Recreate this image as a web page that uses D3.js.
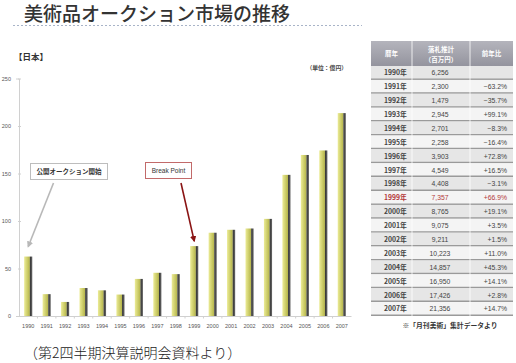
<!DOCTYPE html>
<html>
<head>
<meta charset="utf-8">
<script src="https://cdn.jsdelivr.net/npm/d3@7"></script>
<style>
  html, body { margin: 0; padding: 0; background: #fff; }
  svg { display: block; font-family: "Liberation Sans", "Noto Sans CJK JP", sans-serif; }
  .jp { font-family: "Noto Sans CJK JP", sans-serif; }
</style>
</head>
<body>
<div id="chart"></div>
<script>
// 美術品オークション市場の推移 (bars in 億円, table in 百万円)
const years = ["1990","1991","1992","1993","1994","1995","1996","1997","1998",
               "1999","2000","2001","2002","2003","2004","2005","2006","2007"];
const sales = [6256, 2300, 1479, 2945, 2701, 2258, 3903, 4549, 4408,
               7357, 8765, 9075, 9211, 10223, 14857, 16950, 17426, 21356]; // 百万円
const yoy = ["", "−63.2%", "−35.7%", "+99.1%", "−8.3%", "−16.4%", "+72.8%", "+16.5%", "−3.1%",
             "+66.9%", "+19.1%", "+3.5%", "+1.5%", "+11.0%", "+45.3%", "+14.1%", "+2.8%", "+14.7%"];
const yTicks = [0, 5000, 10000, 15000, 20000, 25000];
const yTickLabels = ["0", "50", "100", "150", "200", "250"]; // 億円
const highlightYear = "1999";

const W = 516, H = 363;
const svg = d3.select("#chart").append("svg").attr("width", W).attr("height", H);

const defs = svg.append("defs");
const gy = defs.append("linearGradient").attr("id", "barYellow");
gy.append("stop").attr("offset", "0%").attr("stop-color", "#ecec96");
gy.append("stop").attr("offset", "100%").attr("stop-color", "#b4b448");
const gd = defs.append("linearGradient").attr("id", "barDark");
gd.append("stop").attr("offset", "0%").attr("stop-color", "#2e2e2e");
gd.append("stop").attr("offset", "100%").attr("stop-color", "#6a6a6a");
defs.append("marker").attr("id", "arrGrey").attr("viewBox", "0 0 10 10")
  .attr("refX", 8).attr("refY", 5).attr("markerWidth", 4).attr("markerHeight", 4)
  .attr("orient", "auto").append("path").attr("d", "M0,0L10,5L0,10z").attr("fill", "#b8b8b8");
defs.append("marker").attr("id", "arrRed").attr("viewBox", "0 0 10 10")
  .attr("refX", 8).attr("refY", 5).attr("markerWidth", 4).attr("markerHeight", 4)
  .attr("orient", "auto").append("path").attr("d", "M0,0L10,5L0,10z").attr("fill", "#8a1414");

// title
svg.append("text").attr("class", "jp").attr("x", 24).attr("y", 21)
  .attr("font-size", 19).attr("font-weight", 500).attr("fill", "#333")
  .text("美術品オークション市場の推移");
svg.append("line").attr("x1", 13).attr("x2", 362).attr("y1", 25.5).attr("y2", 25.5)
  .attr("stroke", "#a8b4c8").attr("stroke-width", 1).attr("stroke-dasharray", "2,2");

// ---- bar chart ----
const x = d3.scaleBand().domain(years).range([19, 351]).paddingInner(0.56).paddingOuter(0.28);
const y = d3.scaleLinear().domain([0, 25000]).range([316, 78.5]);

svg.append("text").attr("class", "jp").attr("x", 14).attr("y", 60)
  .attr("font-size", 8.5).attr("font-weight", "bold").attr("fill", "#333").text("【日本】");
svg.append("text").attr("class", "jp").attr("x", 347).attr("y", 70).attr("text-anchor", "end")
  .attr("font-size", 5.8).attr("font-weight", "bold").attr("fill", "#444").text("（単位：億円）");

const yAxisG = svg.append("g").attr("transform", "translate(19,0)")
  .call(d3.axisLeft(y).tickValues(yTicks).tickSize(3).tickPadding(5)
    .tickFormat((d, i) => yTickLabels[i]));
yAxisG.select(".domain").attr("stroke", "#d0d0d0");
yAxisG.selectAll(".tick line").attr("stroke", "#d0d0d0").attr("x2", 2).attr("x1", -1);
yAxisG.selectAll("text").attr("font-size", 5.5).attr("fill", "#555").attr("font-family", "Liberation Sans");

const xAxisG = svg.append("g").attr("transform", "translate(0,316)")
  .call(d3.axisBottom(x).tickSize(0).tickPadding(8));
xAxisG.select(".domain").attr("stroke", "#d0d0d0");
xAxisG.selectAll("text").attr("font-size", 5.5).attr("fill", "#555").attr("font-family", "Liberation Sans");
// small separators between categories
svg.append("g").selectAll("line").data(years.slice(1)).join("line")
  .attr("x1", d => x(d) - x.step() * x.paddingInner() / 2)
  .attr("x2", d => x(d) - x.step() * x.paddingInner() / 2)
  .attr("y1", 316).attr("y2", 318.5).attr("stroke", "#d0d0d0");

const bw = x.bandwidth();
const bars = svg.append("g").selectAll("g").data(years.map((yr, i) => ({ yr, v: sales[i] }))).join("g");
bars.append("rect")
  .attr("x", d => x(d.yr)).attr("y", d => y(d.v))
  .attr("width", bw * 0.7).attr("height", d => y(0) - y(d.v))
  .attr("fill", "url(#barYellow)");
bars.append("rect")
  .attr("x", d => x(d.yr) + bw * 0.7).attr("y", d => y(d.v))
  .attr("width", bw * 0.3).attr("height", d => y(0) - y(d.v))
  .attr("fill", "url(#barDark)");

// annotations
svg.append("rect").attr("x", 30.5).attr("y", 163.5).attr("width", 77).attr("height", 16)
  .attr("fill", "#fff").attr("stroke", "#bdbdbd");
svg.append("text").attr("class", "jp").attr("x", 69).attr("y", 174).attr("text-anchor", "middle")
  .attr("font-size", 6.5).attr("font-weight", "bold").attr("fill", "#333").text("公開オークション開始");
svg.append("line").attr("x1", 53.5).attr("y1", 183)
  .attr("x2", x("1990") + bw / 2).attr("y2", y(sales[0]) - 10)
  .attr("stroke", "#b8b8b8").attr("stroke-width", 1.6).attr("marker-end", "url(#arrGrey)");

svg.append("rect").attr("x", 145.5).attr("y", 162.5).attr("width", 46).attr("height", 16)
  .attr("fill", "#fff").attr("stroke", "#c26a6a");
svg.append("text").attr("x", 168.5).attr("y", 172.8).attr("text-anchor", "middle")
  .attr("font-size", 6.5).attr("fill", "#333").text("Break Point");
svg.append("line").attr("x1", 181).attr("y1", 183)
  .attr("x2", x(highlightYear) + bw / 2).attr("y2", y(sales[years.indexOf(highlightYear)]) - 5)
  .attr("stroke", "#8a1414").attr("stroke-width", 1.6).attr("marker-end", "url(#arrRed)");

// ---- table ----
const tx0 = 371, tx1 = 412, tx2 = 470, tx3 = 513;
const row = d3.scaleBand().domain(years).range([66, 316]);
const hg = defs.append("linearGradient").attr("id", "hdr").attr("x1", 0).attr("x2", 0).attr("y1", 0).attr("y2", 1);
hg.append("stop").attr("offset", "0%").attr("stop-color", "#b4b4bc");
hg.append("stop").attr("offset", "100%").attr("stop-color", "#94949e");
svg.append("rect").attr("x", tx0).attr("y", 41).attr("width", tx3 - tx0).attr("height", 25).attr("fill", "url(#hdr)");
const hdr = svg.append("g").attr("class", "jp").attr("fill", "#fff").attr("font-weight", "bold")
  .attr("font-size", 6.5).attr("text-anchor", "middle");
hdr.append("text").attr("x", (tx0 + tx1) / 2).attr("y", 56).text("暦年");
hdr.append("text").attr("x", (tx1 + tx2) / 2).attr("y", 52).text("落札推計");
hdr.append("text").attr("x", (tx1 + tx2) / 2).attr("y", 61.5).text("（百万円）");
hdr.append("text").attr("x", (tx2 + tx3) / 2).attr("y", 56).text("前年比");

const rows = svg.append("g").selectAll("g").data(years).join("g")
  .attr("transform", d => `translate(0,${row(d)})`);
rows.append("rect").attr("x", tx0).attr("width", tx3 - tx0).attr("height", row.bandwidth())
  .attr("fill", (d, i) => i % 2 ? "#f4f4f4" : "#e6e6e6");
rows.append("line").attr("x1", tx0).attr("x2", tx3)
  .attr("y1", row.bandwidth() - 0.75).attr("y2", row.bandwidth() - 0.75)
  .attr("stroke", "#9a9a9a").attr("stroke-width", 1.5);
const rowText = rows.append("g").attr("font-size", 6.8).attr("font-weight", "bold")
  .attr("fill", d => d === highlightYear ? "#b33a3a" : "#444");
rowText.append("text").attr("class", "jp").attr("x", 384).attr("y", row.bandwidth() / 2 + 2.4)
  .text(d => d + "年");
rowText.append("text").attr("x", 440).attr("y", row.bandwidth() / 2 + 2.4).attr("text-anchor", "middle")
  .attr("font-weight", "normal").text((d, i) => d3.format(",")(sales[i]));
rowText.append("text").attr("x", 507).attr("y", row.bandwidth() / 2 + 2.4).attr("text-anchor", "end")
  .attr("font-weight", "normal").text((d, i) => yoy[i]);
// column dividers
svg.append("g").selectAll("line").data([tx1, tx2]).join("line")
  .attr("x1", d => d).attr("x2", d => d).attr("y1", 41).attr("y2", 316)
  .attr("stroke", "#fff").attr("stroke-width", 0.8);

svg.append("text").attr("class", "jp").attr("x", 450).attr("y", 328).attr("text-anchor", "middle")
  .attr("font-size", 6.8).attr("font-weight", "bold").attr("fill", "#333").text("※「月刊美術」集計データより");

// footer
svg.append("text").attr("class", "jp").attr("x", 24).attr("y", 358)
  .attr("font-size", 14).attr("font-weight", 300).attr("fill", "#222")
  .text("（第2四半期決算説明会資料より）");
</script>
</body>
</html>
